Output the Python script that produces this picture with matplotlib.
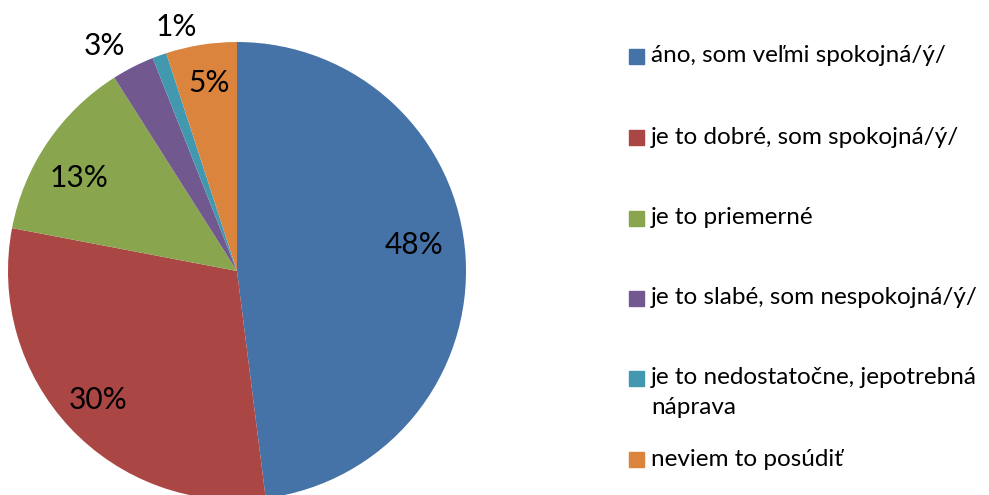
import matplotlib
matplotlib.use("Agg")
import matplotlib.pyplot as plt
import numpy as np

labels = ["áno, som veľmi spokojná/ý/",
          "je to dobré, som spokojná/ý/",
          "je to priemerné",
          "je to slabé, som nespokojná/ý/",
          "je to nedostatočne, jepotrebná\nnáprava",
          "neviem to posúdiť"]
values = [48, 30, 13, 3, 1, 5]
pct_labels = ["48%", "30%", "13%", "3%", "1%", "5%"]
colors = ["#4572A7", "#AA4643", "#89A54E", "#71588F", "#4198AF", "#DB843D"]

plt.rcParams['font.family'] = ['Lato', 'DejaVu Sans']

W, H = 989, 495
fig = plt.figure(figsize=(W/100, H/100), dpi=100)
cx, cy, r = 237, 271, 229
ax = fig.add_axes([(cx - r)/W, (H - cy - r)/H, 2*r/W, 2*r/H])
wedges, _ = ax.pie(values, colors=colors, startangle=90, counterclock=False,
                   radius=1, wedgeprops=dict(linewidth=0))
ax.set_xlim(-1, 1)
ax.set_ylim(-1, 1)
ax.set_aspect('equal')
ax.axis('off')

# label distances and angular offsets (deg) per slice
dists = [0.78, 0.83, 0.80, 1.14, 1.10, 0.83]
offs = [4.8, -0.3, 3.6, 3.5, -5.8, -0.6]
for w, t, d, o in zip(wedges, pct_labels, dists, offs):
    ang = np.deg2rad((w.theta1 + w.theta2) / 2 + o)
    ax.text(d*np.cos(ang), d*np.sin(ang), t, ha='center', va='center',
            fontsize=21.5, color='black', clip_on=False)

# legend
fs = 17.5
ys = [56, 137, 218, 298, 378, 459]
for lab, col, y in zip(labels, colors, ys):
    fig.patches.append(plt.Rectangle((629/W, (H - y - 7.5)/H), 15/W, 15/H,
                                     transform=fig.transFigure, color=col))
    lines = lab.split('\n')
    for k, line in enumerate(lines):
        fig.text(651/W, (H - y - 30*k)/H, line, ha='left', va='center', fontsize=fs)

fig.savefig("out.png", dpi=100)
